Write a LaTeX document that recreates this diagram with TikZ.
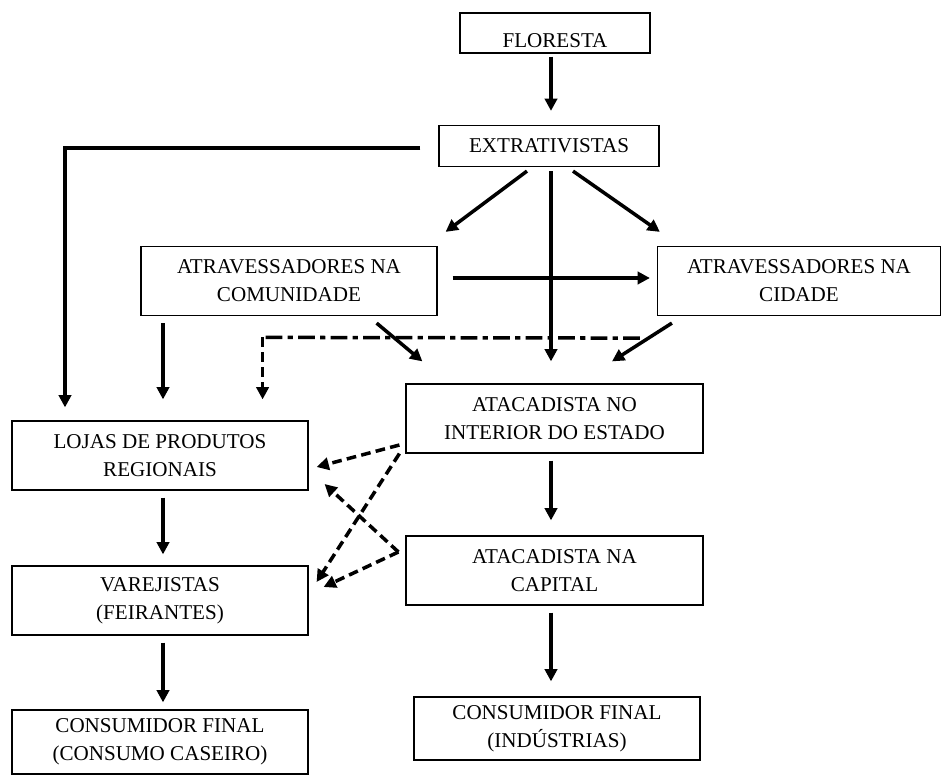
\documentclass[tikz,border=0pt]{standalone}
\usepackage{fontspec}
\setmainfont{Liberation Serif}
\usetikzlibrary{calc,arrows.meta}

\begin{document}
\begin{tikzpicture}[x=0.02cm,y=-0.02cm,
    caixa/.style={draw,line width=0.7pt,align=center,inner sep=0pt,
      font=\fontsize{12}{16}\selectfont},
    seta/.style={line width=2pt,-{Triangle[length=7pt,width=7pt]}},
    tracejada/.style={seta,dash pattern=on 5.5pt off 3pt},
    tracoponto/.style={line width=2pt,dash pattern=on 9.5pt off 3pt on 3pt off 3pt}]
            \useasboundingbox (0,0) rectangle (943,776);

            \node[caixa,minimum width=3.8cm,minimum height=0.8cm,text height=16pt,text depth=0pt] (flo) at (555,33){FLORESTA};
            \node[caixa,minimum width=4.4cm,minimum height=0.82cm] (ext) at (549,146){EXTRATIVISTAS};
            \node[caixa,minimum width=5.92cm,minimum height=1.38cm] (atc) at (289,281){ATRAVESSADORES NA\\COMUNIDADE};
            \node[caixa,minimum width=5.66cm,minimum height=1.38cm] (atcid) at (799,281){ATRAVESSADORES NA\\CIDADE};
            \node[caixa,minimum width=5.94cm,minimum height=1.38cm] (atin) at (554.5,418.5){ATACADISTA NO\\INTERIOR DO ESTADO};
            \node[caixa,minimum width=5.94cm,minimum height=1.38cm] (atcap) at (554.5,570.5){ATACADISTA NA\\CAPITAL};
            \node[caixa,minimum width=5.92cm,minimum height=1.38cm] (lojas) at (160,455.5){LOJAS DE PRODUTOS\\REGIONAIS};
            \node[caixa,minimum width=5.92cm,minimum height=1.38cm] (varej) at (160,600.5){VAREJISTAS\\(FEIRANTES)};
            \node[caixa,minimum width=5.92cm,minimum height=1.28cm] (cfcas) at (160,742){CONSUMIDOR FINAL\\(CONSUMO CASEIRO)};
            \node[caixa,minimum width=5.72cm,minimum height=1.26cm] (cfind) at (557,728.5){CONSUMIDOR FINAL\\(INDÚSTRIAS)};

            % setas cheias
            \draw[seta] ($(flo.south)+(-4,3)$) -- ($(ext.north)+(2,-14)$);
            \draw[seta] ($(ext.west)+(-18,2)$) -| ($(lojas.north)+(-95,-13)$);
            \draw[seta] ($(ext.south)+(-22,4)$) -- ($(atc.north east)+(8,-14)$);
            \draw[seta] ($(ext.south)+(2,4)$) -- ($(atin.north)+(-3.5,-22)$);
            \draw[seta] ($(ext.south)+(24,4)$) -- ($(atcid.north west)+(3,-14)$);
            \draw[seta] ($(atc.east)+(15,-3)$) -- ($(atcid.west)+(-7,-3)$);
            \draw[seta] ($(atc.south)+(-126,7)$) -- ($(lojas.north)+(3,-21)$);
            \draw[seta] ($(atc.south east)+(-61,7)$) -- ($(atin.north west)+(17,-22)$);
            \draw[seta] ($(atcid.south west)+(15,7)$) -- ($(atin.north)+(57.5,-22)$);
            \draw[seta] ($(lojas.south)+(3,7)$) -- ($(varej.north)+(3,-11)$);
            \draw[seta] ($(varej.south)+(3,7)$) -- ($(cfcas.north)+(3,-7)$);
            \draw[seta] ($(atin.south)+(-3.5,7)$) -- ($(atcap.north)+(-3.5,-15)$);
            \draw[seta] ($(atcap.south)+(-3.5,7)$) -- ($(cfind.north)+(-6,-15)$);

            % traco e ponto
            \coordinate (canto) at ($(lojas.north east)+(-46,-83)$);
            \draw[tracoponto] ($(atcid.south west)+(-17,22)$) -- (canto);
            \draw[tracejada] (canto) -- ($(lojas.north east)+(-46,-21)$);

            % tracejadas
            \draw[tracejada] ($(atin.west)+(-6,26.5)$) -- ($(lojas.east)+(8,11.5)$);
            \draw[tracejada] ($(atin.south west)+(-6,0)$) -- ($(varej.east)+(8,-18.5)$);
            \draw[tracejada] ($(atcap.west)+(-7,-18.5)$) -- ($(lojas.east)+(16,28.5)$);
            \draw[tracejada] ($(atcap.west)+(-7,-18.5)$) -- ($(varej.east)+(15,-13.5)$);
\end{tikzpicture}
\end{document}
